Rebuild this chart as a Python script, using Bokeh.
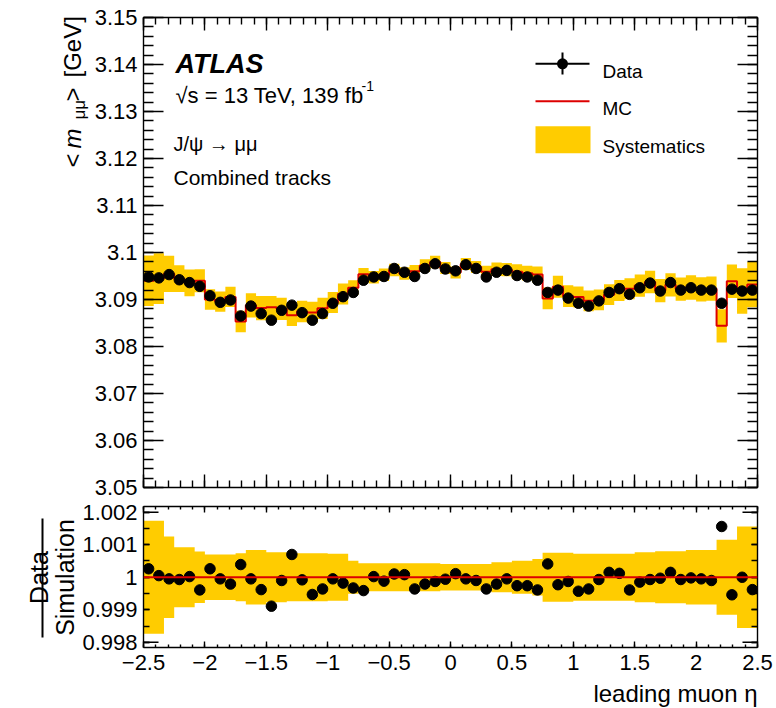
import numpy as np
from bokeh.embed import file_html
from bokeh.layouts import column, row
from bokeh.models import (Arrow, BoxAnnotation, CustomJSTickFormatter, FixedTicker,
                          Label, LinearAxis, Range1d, Span)
from bokeh.plotting import figure
from bokeh.resources import INLINE

# ---- mean di-muon mass of J/psi candidates vs leading-muon eta ----
eta_min, eta_max, n_bins = -2.5, 2.5, 60

data_mass = [
    3.0948, 3.0946, 3.0953, 3.0942, 3.0936, 3.0928, 3.0908, 3.0894, 3.0899, 3.0865,
    3.0886, 3.0870, 3.0856, 3.0877, 3.0888, 3.0872, 3.0856, 3.0870, 3.0892, 3.0906,
    3.0915, 3.0941, 3.0948, 3.0949, 3.0966, 3.0958, 3.0949, 3.0966, 3.0976, 3.0965,
    3.0961, 3.0974, 3.0966, 3.0948, 3.0958, 3.0962, 3.0951, 3.0948, 3.0941, 3.0915,
    3.0920, 3.0903, 3.0892, 3.0886, 3.0897, 3.0915, 3.0923, 3.0911, 3.0925, 3.0935,
    3.0918, 3.0936, 3.0920, 3.0925, 3.0920, 3.0920, 3.0892, 3.0922, 3.0918, 3.0920,
]

data_over_sim = [
    1.00026, 1.00005, 0.99995, 0.99993, 1.00002, 0.99961, 1.00026, 0.99995, 0.99979, 1.00039,
    0.99995, 0.99962, 0.99911, 0.99990, 1.00070, 0.99992, 0.99947, 0.99964, 0.99995, 0.99982,
    0.99967, 0.99959, 1.00002, 0.99988, 1.00010, 1.00008, 0.99964, 0.99979, 0.99987, 0.99994,
    1.00011, 0.99995, 0.99990, 0.99964, 0.99979, 0.99995, 0.99974, 0.99974, 0.99961, 1.00041,
    0.99977, 0.99987, 0.99957, 0.99964, 0.99993, 1.00015, 1.00012, 0.99961, 0.99985, 0.99993,
    0.99997, 1.00015, 0.99993, 0.99998, 0.99995, 0.99990, 1.00156, 0.99946, 1.00000, 0.99962,
]

# relative systematic uncertainty of the simulation, per bin
syst_rel = [
    0.00174, 0.00174, 0.00125, 0.00092, 0.00092, 0.00079, 0.00070, 0.00070, 0.00070, 0.00074,
    0.00084, 0.00084, 0.00077, 0.00077, 0.00074, 0.00074, 0.00074, 0.00074, 0.00072, 0.00072,
    0.00051, 0.00043, 0.00043, 0.00043, 0.00043, 0.00043, 0.00043, 0.00043, 0.00043, 0.00041,
    0.00041, 0.00041, 0.00041, 0.00041, 0.00046, 0.00046, 0.00051, 0.00051, 0.00056, 0.00075,
    0.00075, 0.00075, 0.00072, 0.00072, 0.00072, 0.00072, 0.00072, 0.00072, 0.00077, 0.00077,
    0.00080, 0.00080, 0.00080, 0.00084, 0.00084, 0.00084, 0.00115, 0.00115, 0.00156, 0.00156,
]

eta_ticks = [-2.5, -2.0, -1.5, -1.0, -0.5, 0.0, 0.5, 1.0, 1.5, 2.0, 2.5]
mass_ticks = [3.05, 3.06, 3.07, 3.08, 3.09, 3.10, 3.11, 3.12, 3.13, 3.14, 3.15]
ratio_ticks = [0.998, 0.999, 1.000, 1.001, 1.002]

edges = np.linspace(eta_min, eta_max, n_bins + 1)
centers = 0.5 * (edges[:-1] + edges[1:])
data = np.array(data_mass)
ratio = np.array(data_over_sim)
mc = data / ratio
syst = np.array(syst_rel)


def closed(a):
    """Repeat the last bin so step glyphs run to the right edge."""
    return np.append(a, a[-1])


# ---- page geometry (canvas pixels) ----
W, H = 776, 708
LEFT, RIGHT = 143, 757          # frame edges, both panels
TOP_Y0, TOP_Y1 = 17, 487        # upper frame
BOT_Y0, BOT_Y1 = 506, 647       # lower frame
ROW1_H = 499                    # upper panel row
ROW2_H = 180                    # lower panel row
ROW3_H = H - ROW1_H - ROW2_H    # x-axis title row
ROW_GAP = 4                     # extra space the page leaves under each row
STRIP1_W, STRIP2_W = 90, 79     # y-title columns

FONT = "Liberation Sans"
YELLOW = "#ffcc00"
RED = "#dd0000"
MASS_RANGE = (3.05, 3.15)
RATIO_RANGE = (0.99784, 1.002175)
TICK_FONT = "22px"

fmt = CustomJSTickFormatter(
    code="return String(Number(tick.toFixed(4))).replace('-', '\\u2212');")


def add_axis(p, side, ticks, minor, major_len, minor_len, labels=False, standoff=6):
    ax = LinearAxis(ticker=FixedTicker(ticks=ticks, minor_ticks=minor))
    ax.major_tick_in = major_len
    ax.major_tick_out = 0
    ax.minor_tick_in = minor_len
    ax.minor_tick_out = 0
    for part in ("axis_line", "major_tick_line", "minor_tick_line"):
        setattr(ax, part + "_width", 1.4)
        setattr(ax, part + "_color", "black")
    if labels:
        ax.formatter = fmt
        ax.major_label_text_font = FONT
        ax.major_label_text_font_size = TICK_FONT
        ax.major_label_text_color = "black"
        ax.major_label_standoff = standoff
    else:
        ax.major_label_text_color = None
        ax.major_label_text_font_size = "1px"
        ax.major_label_standoff = 0
    p.add_layout(ax, side)


def panel(width, height, y_range, border_left, border_top, border_bottom):
    p = figure(width=width, height=height, x_range=x_range, y_range=y_range,
               title=None, output_backend="svg", toolbar_location=None,
               x_axis_location=None, y_axis_location=None, frame_align=False,
               min_border_left=border_left, min_border_right=W - RIGHT,
               min_border_top=border_top, min_border_bottom=border_bottom)
    p.grid.visible = False
    p.outline_line_color = None
    p.background_fill_color = "white"
    return p


class Strip:
    """Axis-free canvas for titles; positions are given in page pixels."""

    def __init__(self, left, top, width, height):
        self.left, self.bottom = left, top + height
        self.fig = figure(width=width, height=height, title=None,
                          x_range=Range1d(0, width), y_range=Range1d(0, height),
                          output_backend="svg", toolbar_location=None, frame_align=False,
                          x_axis_location=None, y_axis_location=None, min_border=0)
        self.fig.grid.visible = False
        self.fig.outline_line_color = None

    def text(self, cx, cy, text, size, style="normal", **kw):
        kw.setdefault("text_baseline", "alphabetic")
        self.fig.add_layout(Label(x=cx - self.left, y=self.bottom - cy,
                                  x_units="screen", y_units="screen", text=text,
                                  text_font=FONT, text_font_size=f"{size}px",
                                  text_font_style=style, text_color="black", **kw))

    def line(self, x0, y0, x1, y1, width=2):
        self.fig.add_layout(Arrow(end=None, x_start=x0 - self.left, y_start=self.bottom - y0,
                                  x_end=x1 - self.left, y_end=self.bottom - y1,
                                  start_units="screen", end_units="screen",
                                  line_color="black", line_width=width))


def tlabel(p, frame_bottom, cx, cy, text, size, style="normal", **kw):
    """Text in a panel, placed at a page pixel position relative to its frame."""
    kw.setdefault("text_baseline", "alphabetic")
    p.add_layout(Label(x=cx - LEFT, y=frame_bottom - cy, x_units="screen", y_units="screen",
                       text=text, text_font=FONT, text_font_size=f"{size}px",
                       text_font_style=style, text_color="black", **kw))


def seg(p, frame_bottom, x0, y0, x1, y1, color, width=2):
    p.add_layout(Arrow(end=None, x_start=x0 - LEFT, y_start=frame_bottom - y0,
                       x_end=x1 - LEFT, y_end=frame_bottom - y1,
                       start_units="screen", end_units="screen",
                       line_color=color, line_width=width))


eta_minor = np.round(np.arange(eta_min, eta_max + 1e-9, 0.1), 3).tolist()
mass_minor = np.round(np.arange(MASS_RANGE[0], MASS_RANGE[1] + 1e-9, 0.002), 4).tolist()
ratio_minor = np.round(np.arange(0.998, 1.0022, 0.0005), 5).tolist()

x_range = Range1d(eta_min, eta_max)

# ---------------- upper panel: <m_mumu> ----------------
top = panel(W - STRIP1_W, ROW1_H, Range1d(*MASS_RANGE),
            LEFT - STRIP1_W, TOP_Y0, ROW1_H - TOP_Y1)
add_axis(top, "left", mass_ticks, mass_minor, 20, 10, labels=True, standoff=6)
add_axis(top, "right", mass_ticks, mass_minor, 20, 10)
add_axis(top, "below", eta_ticks, eta_minor, 13, 7)
add_axis(top, "above", eta_ticks, eta_minor, 13, 7)

top.varea_step(x=edges, y1=closed(mc * (1 - syst)), y2=closed(mc * (1 + syst)),
               step_mode="after", fill_color=YELLOW)
top.step(x=edges, y=closed(mc), mode="after", line_color=RED, line_width=2)
top.scatter(x=centers, y=data, size=10.5, fill_color="black", line_color="black")

# experiment and selection labels
tlabel(top, TOP_Y1, 175, 63.5, "ATLAS", 27, "bold italic")
tlabel(top, TOP_Y1, 175, 94.5, "√s = 13 TeV, 139 fb", 22)
tlabel(top, TOP_Y1, 361, 85, "-1", 14)
tlabel(top, TOP_Y1, 173, 143.5, "J/ψ → μμ", 20)
tlabel(top, TOP_Y1, 173, 176.5, "Combined tracks", 21)

# legend
seg(top, TOP_Y1, 535, 63.3, 589, 63.3, "black")
seg(top, TOP_Y1, 562, 52, 562, 74, "black")
r = 5.5
top.add_layout(BoxAnnotation(left=562 - r - LEFT, right=562 + r - LEFT,
                             bottom=TOP_Y1 - 63.3 - r, top=TOP_Y1 - 63.3 + r,
                             left_units="screen", right_units="screen",
                             bottom_units="screen", top_units="screen",
                             border_radius=6, fill_color="black", fill_alpha=1,
                             line_color=None))
tlabel(top, TOP_Y1, 602, 70.7, "Data", 19)
seg(top, TOP_Y1, 535, 100.7, 589, 100.7, RED)
tlabel(top, TOP_Y1, 602, 108.3, "MC", 19)
top.add_layout(BoxAnnotation(left=535 - LEFT, right=590 - LEFT,
                             bottom=TOP_Y1 - 152.7, top=TOP_Y1 - 125.7,
                             left_units="screen", right_units="screen",
                             bottom_units="screen", top_units="screen",
                             fill_color=YELLOW, fill_alpha=1, line_color=None))
tlabel(top, TOP_Y1, 602, 146, "Systematics", 19)

# y-axis title  <m_{mumu}> [GeV]
ytitle_top = Strip(0, 0, STRIP1_W, ROW1_H)
rot = dict(angle=np.pi / 2, text_align="left")
ytitle_top.text(72, 167, "<", 24, **rot)
ytitle_top.text(72, 148, "m", 24, "italic", **rot)
ytitle_top.text(79, 119, "μμ", 17, **rot)
ytitle_top.text(72, 101, ">", 24, **rot)
ytitle_top.text(72, 77, "[GeV]", 24, **rot)

# ---------------- lower panel: Data / Simulation ----------------
bot = panel(W - STRIP2_W, ROW2_H, Range1d(*RATIO_RANGE),
            LEFT - STRIP2_W, BOT_Y0 - ROW1_H, ROW1_H + ROW2_H - BOT_Y1)
add_axis(bot, "left", ratio_ticks, ratio_minor, 6, 6, labels=True, standoff=6)
add_axis(bot, "right", ratio_ticks, ratio_minor, 6, 6)
add_axis(bot, "below", eta_ticks, eta_minor, 6, 3, labels=True, standoff=7)
add_axis(bot, "above", eta_ticks, eta_minor, 6, 3)

bot.varea_step(x=edges, y1=closed(1 - syst), y2=closed(1 + syst),
               step_mode="after", fill_color=YELLOW)
bot.add_layout(Span(location=1.0, dimension="width", line_color=RED, line_width=2))
bot.scatter(x=centers, y=ratio, size=10.5, fill_color="black", line_color="black")

# longer ticks at the outer labelled values of the ratio axis
frame_h = BOT_Y1 - BOT_Y0
for v in (ratio_ticks[0], ratio_ticks[-1]):
    cy = BOT_Y1 - (v - RATIO_RANGE[0]) / (RATIO_RANGE[1] - RATIO_RANGE[0]) * frame_h
    seg(bot, BOT_Y1, LEFT, cy, LEFT + 15, cy, "black", 1.4)
    seg(bot, BOT_Y1, RIGHT - 15, cy, RIGHT, cy, "black", 1.4)

# y-axis title as a fraction
ytitle_bot = Strip(0, ROW1_H, STRIP2_W, ROW2_H)
rotc = dict(angle=np.pi / 2, text_align="center")
ytitle_bot.text(38, 577, "Data", 25, **rotc)
ytitle_bot.text(64, 577, "Simulation", 25, **rotc)
ytitle_bot.line(42, 637, 42, 518)

# x-axis title (its row sits below two row gaps)
xtitle = Strip(0, ROW1_H + ROW2_H, W, ROW3_H)
xtitle.text(RIGHT, 701 - 2 * ROW_GAP, "leading muon η", 24, text_align="right")

layout = column(row(ytitle_top.fig, top, spacing=0),
                row(ytitle_bot.fig, bot, spacing=0),
                xtitle.fig, spacing=0)
open("out.html", "w").write(file_html(layout, INLINE))
